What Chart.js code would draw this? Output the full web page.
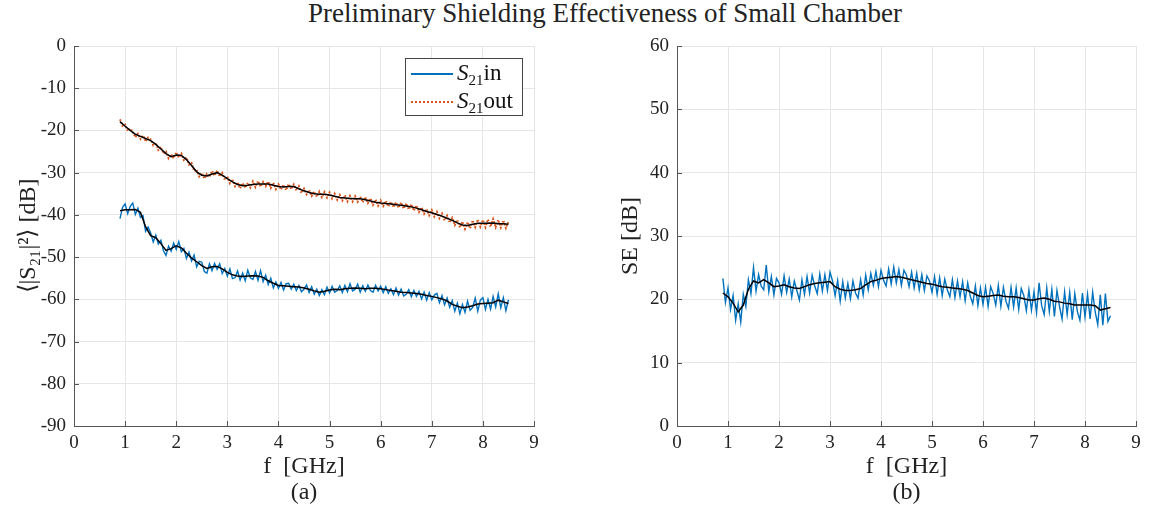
<!DOCTYPE html>
<html>
<head>
<meta charset="utf-8">
<script src="https://cdn.jsdelivr.net/npm/chart.js@4/dist/chart.umd.min.js"></script>
<style>
  body { margin: 0; background: #fff; width: 1152px; height: 514px; position: relative; overflow: hidden; font-family: "Liberation Serif", serif; }
  #title { position: absolute; left: 74px; top: -1px; width: 1062px; text-align: center; font-size: 27px; line-height: 28px; color: #222; }
  #left { position: absolute; left: 0; top: 0; }
  #right { position: absolute; left: 560px; top: 0; }
  #legend { position: absolute; left: 405px; top: 58px; width: 116px; height: 56px; border: 1px solid #444; background: #fff; color: #111; }
  .row { position: absolute; left: 0; height: 28px; display: flex; align-items: center; font-size: 23px; }
  .row sub { font-size: 15px; vertical-align: -5px; }
  .sw { width: 42px; margin: 0 4px 0 5px; }
</style>
</head>
<body>
<div id="title">Preliminary Shielding Effectiveness of Small Chamber</div>
<canvas id="left" width="560" height="514"></canvas>
<canvas id="right" width="592" height="514"></canvas>
<div id="legend">
  <div class="row" style="top:1px"><div class="sw" style="height:2px;background:#0072BD"></div><span><i>S</i><sub>21</sub>in</span></div>
  <div class="row" style="top:29px"><div class="sw" style="height:0;border-top:2px dotted #D95319"></div><span><i>S</i><sub>21</sub>out</span></div>
</div>
<script>
// raw traces, sampled every 0.05 GHz from 0.9 to 8.5 GHz
const s21in = [
  -40.9,-38.2,-37.4,-39.7,-38.0,-37.2,-39.9,-38.4,-40.6,-40.2,
  -43.9,-42.9,-44.3,-46.4,-44.8,-46.9,-46.0,-48.5,-49.6,-47.4,
  -48.6,-46.7,-48.2,-46.3,-48.7,-47.9,-50.3,-48.8,-50.9,-49.5,
  -52.3,-51.0,-51.2,-53.4,-53.8,-51.6,-53.2,-51.5,-52.9,-51.6,
  -53.9,-52.7,-54.5,-52.8,-55.1,-54.9,-53.3,-55.4,-53.8,-55.6,
  -53.1,-54.9,-55.3,-53.4,-55.5,-53.2,-55.8,-54.3,-56.5,-55.0,
  -57.3,-55.9,-57.4,-56.0,-57.8,-56.3,-56.2,-57.6,-56.4,-57.9,
  -56.7,-58.2,-57.6,-56.6,-58.4,-57.0,-58.8,-57.6,-59.1,-57.7,
  -58.9,-57.1,-58.5,-56.9,-58.3,-57.9,-56.8,-58.4,-56.7,-58.2,
  -56.3,-58.0,-57.6,-56.4,-58.3,-56.8,-58.1,-56.6,-57.9,-58.3,
  -56.7,-58.0,-56.9,-58.4,-57.0,-58.6,-57.5,-58.9,-57.3,-59.0,
  -57.6,-59.2,-58.8,-57.7,-59.4,-57.9,-59.3,-58.1,-59.9,-58.3,
  -60.2,-58.4,-60.1,-59.0,-58.6,-60.8,-59.1,-61.3,-59.7,-61.9,
  -60.3,-62.8,-60.9,-63.4,-61.2,-63.1,-60.4,-62.6,-61.9,-59.7,
  -62.8,-60.2,-59.6,-62.4,-60.0,-62.3,-59.3,-61.8,-58.7,-62.0,
  -59.6,-62.7,-60.1
];
const s21out = [
  -17.4,-18.9,-18.6,-20.1,-19.6,-20.3,-21.6,-20.8,-22.0,-21.2,
  -22.6,-21.7,-22.1,-23.5,-22.9,-24.6,-23.9,-25.5,-25.0,-26.6,
  -25.7,-26.6,-25.2,-26.4,-25.5,-27.0,-26.4,-28.1,-27.7,-29.6,
  -29.3,-30.9,-30.1,-31.4,-30.3,-31.0,-29.6,-30.7,-29.5,-30.9,
  -30.1,-31.7,-30.9,-32.5,-31.6,-33.2,-32.3,-33.7,-32.5,-33.6,
  -32.4,-33.5,-32.1,-33.4,-32.0,-33.3,-32.2,-33.2,-32.1,-33.6,
  -32.4,-33.9,-32.8,-34.0,-32.9,-34.1,-32.7,-33.9,-32.8,-34.2,
  -33.2,-34.8,-33.8,-35.1,-34.1,-35.5,-34.5,-35.7,-34.5,-35.8,
  -34.6,-35.9,-34.7,-36.1,-35.0,-36.4,-35.3,-36.6,-35.4,-36.8,
  -35.5,-36.8,-35.6,-36.9,-35.7,-37.0,-35.8,-37.2,-36.1,-37.6,
  -36.4,-37.8,-36.6,-37.9,-36.7,-38.0,-36.9,-38.2,-37.0,-38.3,
  -37.1,-38.5,-37.3,-38.7,-37.5,-39.0,-37.8,-39.3,-38.2,-39.7,
  -38.6,-40.1,-38.9,-40.4,-39.3,-40.8,-39.7,-41.3,-40.2,-41.8,
  -40.7,-42.4,-41.2,-43.0,-41.6,-43.3,-41.7,-43.2,-41.3,-42.9,
  -41.1,-42.8,-41.2,-42.9,-41.1,-42.8,-41.0,-42.9,-41.2,-43.0,
  -41.3,-43.1,-41.7
];
const se = [
  23.3,19.5,21.8,18.4,20.6,16.7,19.3,16.4,20.8,18.9,
  23.1,20.9,25.0,21.3,23.9,22.1,21.5,25.4,21.2,23.6,
  20.7,23.3,22.6,20.8,23.7,21.1,23.2,20.4,22.9,21.4,
  19.9,23.1,20.8,23.6,21.0,23.8,22.1,20.9,24.0,21.3,
  23.9,21.4,24.3,22.9,20.6,23.0,19.7,22.8,20.2,22.5,
  20.1,22.9,21.0,20.2,23.1,20.7,23.8,21.5,24.1,22.2,
  24.4,22.0,24.6,23.0,22.1,24.8,22.4,25.1,22.6,24.7,
  22.2,24.6,23.8,22.0,24.3,21.8,24.1,21.5,23.9,21.4,
  23.7,22.9,21.1,23.6,20.8,23.4,20.6,23.2,21.5,20.4,
  23.1,20.3,22.9,20.4,22.8,19.8,22.6,20.5,19.3,22.1,
  19.0,21.8,19.2,21.9,18.9,22.0,20.9,19.1,22.2,18.9,
  21.9,19.7,18.6,21.9,18.8,21.8,18.4,21.7,20.6,18.2,
  21.5,18.3,21.2,17.9,22.6,19.0,17.6,21.8,18.1,21.6,
  17.3,21.4,18.9,16.9,21.2,17.6,21.1,16.8,20.9,18.1,
  16.7,21.0,17.2,20.8,16.9,21.1,18.0,16.0,20.7,15.9,
  20.9,16.5,17.4
];

// smoothed curves, every 0.1 GHz from 0.9 to 8.5 GHz
const s21outAvg = [
  -17.9,-19.0,-20.0,-20.9,-21.4,-21.9,-22.4,-23.3,-24.4,-25.5,
  -26.2,-25.8,-25.9,-26.9,-28.3,-29.8,-30.6,-30.8,-30.3,-30.0,
  -30.6,-31.4,-32.2,-32.8,-33.1,-33.0,-32.8,-32.7,-32.7,-32.7,
  -33.0,-33.3,-33.4,-33.3,-33.3,-33.8,-34.3,-34.7,-35.0,-35.1,
  -35.1,-35.3,-35.6,-35.9,-36.0,-36.1,-36.2,-36.2,-36.4,-36.7,
  -37.0,-37.2,-37.3,-37.4,-37.6,-37.7,-37.9,-38.1,-38.4,-38.8,
  -39.2,-39.5,-39.9,-40.3,-40.8,-41.3,-41.9,-42.4,-42.5,-42.2,
  -42.0,-42.0,-42.0,-41.9,-42.1,-42.1,-42.2
];
const s21inAvg = [
  -39.0,-38.8,-38.8,-38.7,-39.4,-42.8,-44.9,-45.4,-46.8,-48.4,
  -48.0,-47.3,-47.8,-49.1,-50.2,-51.1,-52.0,-52.7,-52.3,-52.2,
  -52.8,-53.6,-54.2,-54.5,-54.6,-54.5,-54.4,-54.5,-54.8,-55.6,
  -56.2,-56.7,-56.8,-56.9,-57.0,-57.1,-57.3,-57.6,-58.0,-58.3,
  -58.1,-57.8,-57.6,-57.7,-57.5,-57.4,-57.3,-57.4,-57.5,-57.4,
  -57.4,-57.5,-57.7,-57.9,-58.1,-58.3,-58.4,-58.5,-58.6,-58.8,
  -59.1,-59.3,-59.6,-59.9,-60.4,-61.2,-61.6,-62.0,-61.8,-61.5,
  -61.1,-61.0,-60.9,-60.8,-60.2,-60.6,-61.0
];
const seAvg = [
  21.0,20.4,19.4,18.0,19.1,21.6,22.9,22.6,23.1,22.6,
  22.0,22.1,22.3,22.0,21.8,21.7,22.0,22.3,22.5,22.6,
  22.7,22.8,22.0,21.6,21.4,21.4,21.5,21.7,22.3,22.8,
  23.0,23.3,23.4,23.5,23.6,23.5,23.3,23.1,22.9,22.7,
  22.5,22.4,22.2,22.0,21.9,21.8,21.7,21.6,21.4,21.0,
  20.6,20.4,20.5,20.6,20.7,20.5,20.4,20.4,20.3,20.1,
  19.9,19.9,20.1,20.2,20.0,19.7,19.6,19.4,19.3,19.1,
  19.1,19.1,19.1,19.0,18.3,18.5,18.7
];

const fRaw = s21in.map((_, i) => +(0.9 + i * 0.05).toFixed(2));
const fAvg = s21inAvg.map((_, i) => +(0.9 + i * 0.1).toFixed(1));
const xTicks = [0, 1, 2, 3, 4, 5, 6, 7, 8, 9];

const pts = (xs, ys) => xs.map((x, i) => ({ x, y: ys[i] }));

const FONT = '"Liberation Serif", serif';
const AXIS = '#555';
const GRID = '#e6e6e6';

const innerTicks = {
  id: 'innerTicks',
  afterDraw(chart) {
    const { ctx, chartArea: a, scales: { x, y } } = chart;
    ctx.save();
    ctx.strokeStyle = AXIS;
    ctx.lineWidth = 1;
    ctx.beginPath();
    x.ticks.forEach(t => {
      const px = Math.round(x.getPixelForValue(t.value)) + 0.5;
      ctx.moveTo(px, a.bottom); ctx.lineTo(px, a.bottom - 5);
    });
    y.ticks.forEach(t => {
      const py = Math.round(y.getPixelForValue(t.value)) + 0.5;
      ctx.moveTo(a.left, py); ctx.lineTo(a.left + 5, py);
    });
    ctx.stroke();
    ctx.restore();
  }
};

function makeChart(id, datasets, yMin, yMax, yTitle, yWidth, yTitlePad, padRight, letter) {
  return new Chart(document.getElementById(id), {
    type: 'line',
    data: { datasets },
    options: {
      responsive: false,
      animation: false,
      layout: { padding: { left: 0, right: padRight, top: 46, bottom: 0 } },
      elements: { point: { radius: 0 }, line: { tension: 0 } },
      plugins: { legend: { display: false }, tooltip: { enabled: false } },
      scales: {
        x: {
          type: 'linear', min: 0, max: 9,
          afterBuildTicks: s => { s.ticks = xTicks.map(v => ({ value: v })); },
          afterFit: s => { s.height = 88; },
          grid: { color: GRID, drawTicks: false },
          border: { color: AXIS, width: 1 },
          ticks: { padding: 6, color: '#222', font: { family: FONT, size: 19 } },
          title: { display: true, text: ['f  [GHz]', letter], color: '#222',
                   font: { family: FONT, size: 24, lineHeight: 1.05 }, padding: { top: 0, bottom: 9 } }
        },
        y: {
          min: yMin, max: yMax,
          afterFit: s => { s.width = yWidth; },
          grid: { color: GRID, drawTicks: false },
          border: { color: AXIS, width: 1 },
          ticks: { stepSize: 10, padding: 8, color: '#222', font: { family: FONT, size: 19 } },
          title: { display: true, text: yTitle, color: '#222',
                   font: { family: FONT, size: 24, lineHeight: 1.05 }, padding: { top: yTitlePad, bottom: 0 } }
        }
      }
    },
    plugins: [innerTicks]
  });
}

makeChart('left', [
  { label: 'S21in', data: pts(fRaw, s21in), borderColor: '#0072BD', borderWidth: 1.4, order: 2 },
  { label: 'S21out', data: pts(fRaw, s21out), borderColor: '#D95319', borderWidth: 2, borderDash: [1.5, 1.5], order: 2 },
  { label: 'S21in avg', data: pts(fAvg, s21inAvg), borderColor: '#000', borderWidth: 1.5, order: 1 },
  { label: 'S21out avg', data: pts(fAvg, s21outAvg), borderColor: '#000', borderWidth: 1.5, order: 1 }
], -90, 0, '⟨|S₂₁|²⟩ [dB]', 74, 16, 26, '(a)');

makeChart('right', [
  { label: 'SE', data: pts(fRaw, se), borderColor: '#0072BD', borderWidth: 1.4, order: 2 },
  { label: 'SE avg', data: pts(fAvg, seAvg), borderColor: '#000', borderWidth: 1.5, order: 1 }
], 0, 60, 'SE [dB]', 117, 58, 16, '(b)');
</script>
</body>
</html>
